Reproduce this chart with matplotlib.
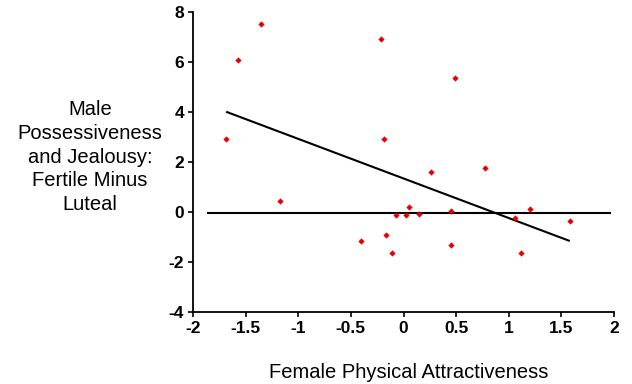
import matplotlib
matplotlib.use("Agg")
import matplotlib.pyplot as plt

# Data
attract = [-1.35, -1.57, -1.685, -0.216, -0.19, 0.488, -1.17, -0.40, -0.171, -0.105,
           -0.073, 0.025, 0.048, 0.145, 0.26, 0.45, 0.45, 0.77, 1.055, 1.12, 1.20, 1.58]
jealousy = [7.53, 6.08, 2.93, 6.92, 2.93, 5.37, 0.43, -1.15, -0.93, -1.65,
            -0.11, -0.12, 0.21, -0.08, 1.59, 0.03, -1.33, 1.76, -0.24, -1.64, 0.12, -0.35]
fit_x = [-1.685, 1.58]
fit_y = [4.01, -1.16]
zero_x = [-1.87, 1.97]
zero_y = [-0.05, -0.05]
xticks = [-2, -1.5, -1, -0.5, 0, 0.5, 1, 1.5, 2]
xticklabels = ["-2", "-1.5", "-1", "-0.5", "0", "0.5", "1", "1.5", "2"]
yticks = [-4, -2, 0, 2, 4, 6, 8]
yticklabels = ["-4", "-2", "0", "2", "4", "6", "8"]

plt.rcParams['font.family'] = ['Liberation Sans', 'DejaVu Sans']
plt.rcParams['axes.unicode_minus'] = False

W, H = 632, 384
fig = plt.figure(figsize=(W / 100, H / 100), dpi=100)
ax = fig.add_axes([193 / W, 1 - 312 / H, (614 - 193) / W, (312 - 12) / H])

ax.plot(zero_x, zero_y, color='black', lw=1.5, solid_capstyle='butt')
ax.plot(fit_x, fit_y, color='black', lw=1.5, solid_capstyle='butt')
ax.plot(attract, jealousy, linestyle='none', marker='D', markersize=3.2,
        color='#e60000', markeredgewidth=0)

ax.set_xlim(-2, 2)
ax.set_ylim(-4, 8)
ax.set_xticks(xticks)
ax.set_xticklabels(xticklabels)
ax.set_yticks(yticks)
ax.set_yticklabels(yticklabels)
for s in ['top', 'right']:
    ax.spines[s].set_visible(False)
for s in ['left', 'bottom']:
    ax.spines[s].set_linewidth(1.3)
ax.tick_params(axis='both', direction='out', length=3.5, width=1.2,
               labelsize=12.5, pad=3)
for lbl in ax.get_xticklabels() + ax.get_yticklabels():
    lbl.set_fontweight('bold')

fig.text(409 / W, 1 - 372 / H, "Female Physical Attractiveness",
         ha='center', va='center', fontsize=14.5)
fig.text(90 / W, 1 - 157 / H,
         "Male\nPossessiveness\nand Jealousy:\nFertile Minus\nLuteal",
         ha='center', va='center', fontsize=14.5, multialignment='center',
         linespacing=1.33)

fig.savefig("out.png", dpi=100)
